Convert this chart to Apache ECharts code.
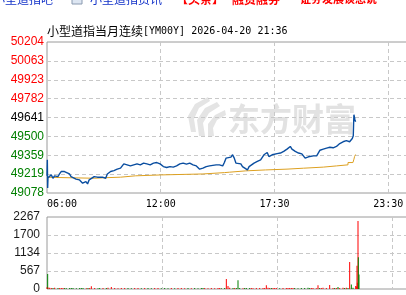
<!DOCTYPE html>
<html><head><meta charset="utf-8">
<script src="https://cdn.jsdelivr.net/npm/echarts@6/dist/echarts.min.js"></script>
<style>html,body{margin:0;padding:0;overflow:hidden;background:#fff;width:406px;height:295px}#c{width:520px;height:295px}</style>
</head><body><div id="c"></div>
<script>
// x axis: minutes since 06:00 (session 06:00 -> 05:00 next day, 1380 min)
const timeLabels = ['06:00','12:00','17:30','23:30','05:00'];
const priceTicks = ['49078','49219','49359','49500','49641','49782','49923','50063','50204'];
const volTicks = ['0','567','1134','1700','2267'];
const preClose = 49641;

const priceMinutes = [
 0,1,2,3,8,13,18,23,33,38,
 43,48,53,58,68,73,78,88,98,103,
 108,118,123,128,133,143,153,158,168,178,
 183,193,203,213,223,233,243,253,263,273,
 283,293,303,313,323,333,343,353,363,373,
 383,393,403,413,423,433,443,453,463,468,
 473,483,493,503,513,518,523,533,538,543,
 548,558,563,568,573,578,588,593,598,608,
 613,618,628,638,648,653,658,663,668,673,
 678,683,688,698,708,718,723,728,733,738,
 743,753,763,773,783,788,793,798,808,813,
 818,823,828,838,848,858,863,868,873,878,
 888,893,898,903,908,913,918,926,929,930,
 931,933,934,936];
const priceValues = [
 49206,49325,49116,49191,49200,49213,49188,49206,49200,49220,
 49238,49250,49238,49230,49220,49200,49188,49181,49176,49163,
 49151,49163,49146,49176,49188,49200,49196,49188,49196,49188,
 49220,49238,49245,49256,49263,49295,49288,49280,49288,49295,
 49288,49301,49295,49288,49301,49305,49295,49275,49268,49275,
 49271,49280,49295,49301,49293,49301,49288,49280,49256,49245,
 49263,49275,49280,49284,49288,49301,49288,49280,49305,49338,
 49350,49346,49363,49338,49301,49288,49295,49275,49263,49250,
 49275,49288,49301,49313,49325,49338,49363,49376,49380,49350,
 49355,49363,49376,49372,49376,49388,49395,49405,49413,49425,
 49405,49388,49376,49370,49338,49325,49348,49353,49355,49358,
 49355,49363,49397,49405,49413,49419,49413,49415,49410,49425,
 49447,49441,49460,49450,49468,49464,49460,49484,49505,49595,
 49662,49674,49625,49610];
const volValues = [
 60,40,470,50,40,35,30,40,30,35,
 30,35,30,25,30,35,30,25,30,35,
 30,25,30,35,90,30,25,30,35,30,
 40,60,30,25,30,35,30,25,30,30,
 25,30,30,25,30,30,25,30,25,30,
 25,30,30,25,30,25,30,25,35,30,
 30,25,30,25,30,30,25,30,315,95,
 40,30,35,30,275,30,25,30,35,30,
 30,25,30,30,35,30,115,40,30,35,
 30,30,35,25,30,30,35,30,30,35,
 30,25,30,35,40,35,30,30,25,115,
 30,35,40,35,125,30,35,30,60,35,
 40,35,40,35,850,145,40,95,80,730,
 200,2140,1000,460];
const avgMinutes = [0,5,143,178,223,268,348,473,538,553,603,663,728,778,838,878,913,928,929,931,933,936];
const avgValues = [49195,49188,49192,49196,49206,49213,49220,49230,49233,49243,49250,49256,49263,49271,49280,49288,49305,49305,49310,49330,49350,49365];

const sessionMin = 1380, xInt = sessionMin / 4;
const pMin = Number(priceTicks[0]), pMax = Number(priceTicks[priceTicks.length-1]);
const pInt = (pMax - pMin) / (priceTicks.length - 1);
const vMax = Number(volTicks[volTicks.length-1]);
const vInt = vMax / (volTicks.length - 1);

const dash = {show:true, showMinLine:false, showMaxLine:false, lineStyle:{color:'#c8c8c8', width:1, type:[4,3]}};
const chart = echarts.init(document.getElementById('c'), null, {renderer:'canvas'});
const volData = priceMinutes.map((m,i)=>{
  const up = i === 0 ? true : priceValues[i] >= priceValues[i-1];
  return {value:[m, volValues[i]], itemStyle:{color: up ? '#ff0000' : '#008000'}};
});
const logoFill = {fill:'#e4e4e4'};
chart.setOption({
  animation:false,
  grid:[
    {left:47, top:42, width:460, height:151, show:true, borderColor:'#9a9a9a', borderWidth:1, backgroundColor:'transparent'},
    {left:47, top:217, width:460, height:73, show:true, borderColor:'#9a9a9a', borderWidth:1, backgroundColor:'transparent'}
  ],
  xAxis:[
    {type:'value', gridIndex:0, min:0, max:sessionMin, interval:xInt,
     axisLine:{show:false}, axisTick:{show:false}, splitLine:dash,
     axisLabel:{formatter:v=>timeLabels[Math.round(v/xInt)], fontFamily:'DejaVu Sans Mono', fontSize:10, color:'#000', margin:6, alignMinLabel:'left', showMinLabel:true}},
    {type:'value', gridIndex:1, min:0, max:sessionMin, interval:xInt,
     axisLine:{show:false}, axisTick:{show:false}, splitLine:dash, axisLabel:{show:false}}
  ],
  yAxis:[
    {type:'value', gridIndex:0, min:pMin, max:pMax, interval:pInt,
     axisLine:{show:false}, axisTick:{show:false}, splitLine:dash,
     axisLabel:{formatter:v=>priceTicks[Math.round((v-pMin)/pInt)], fontFamily:'Liberation Sans', fontSize:12, margin:3,
       color:(v)=>{const n=Math.round((Number(v)-pMin)/pInt); const p=Number(priceTicks[n]); return p>preClose?'#ff0000':(p<preClose?'#008000':'#000000');}}},
    {type:'value', gridIndex:1, min:0, max:vMax, interval:vInt,
     axisLine:{show:false}, axisTick:{show:false}, splitLine:dash,
     axisLabel:{formatter:v=>volTicks[Math.round(v/vInt)], fontFamily:'Liberation Sans', fontSize:12, margin:7, color:'#1a1a1a'}}
  ],
  graphic:[
    {type:'text', x:-7, y:-1, z:10, style:{text:'小型道指吧', fill:'#1030c8', font:'12px "Noto Sans CJK SC"', textVerticalAlign:'middle'}},
    {type:'rect', x:72, y:-5, z:10, shape:{width:10, height:9}, style:{fill:'#dde6f2', stroke:'#8a9ab0', lineWidth:1}},
    {type:'text', x:90, y:-1, z:10, style:{text:'小型道指资讯', fill:'#1030c8', font:'12px "Noto Sans CJK SC"', textVerticalAlign:'middle'}},
    {type:'text', x:176, y:-1, z:10, style:{text:'【头条】', fill:'#ff0000', font:'bold 12px "Noto Sans CJK SC"', textVerticalAlign:'middle'}},
    {type:'text', x:232, y:-1, z:10, style:{text:'融资融券', fill:'#ff0000', font:'bold 12px "Noto Sans CJK SC"', textVerticalAlign:'middle'}},
    {type:'text', x:300, y:-1, z:10, style:{text:'证券发展谈想说', fill:'#ff0000', font:'bold 11px "Noto Sans CJK SC"', textVerticalAlign:'middle'}},
    {type:'text', x:47, y:31, z:10, style:{rich:{a:{fontFamily:'Noto Sans CJK SC', fontSize:12, fill:'#000'}, b:{fontFamily:'DejaVu Sans Mono', fontSize:10, fill:'#000'}}, text:'{a|小型道指当月连续}{b|[YM00Y] 2026-04-20 21:36}', textVerticalAlign:'middle'}},
    {type:'polygon', z:0, shape:{points:[[191,132],[188,116],[195,104],[208,97],[210,101],[199,108],[194,119],[196,132]]}, style:logoFill},
    {type:'polygon', z:0, shape:{points:[[199,136],[197,120],[205,108],[217,102],[220,106],[209,113],[203,123],[205,136]]}, style:logoFill},
    {type:'polygon', z:0, shape:{points:[[208,137],[208,124],[215,115],[225,110],[226,115],[217,120],[213,128],[214,136]]}, style:logoFill},
    {type:'text', x:228, y:119, z:0, style:{text:'东方财富', fill:'#e2e2e2', font:'bold 32px "Noto Sans CJK SC"', textVerticalAlign:'middle'}}
  ],
  series:[
    {type:'line', name:'avg', xAxisIndex:0, yAxisIndex:0, step:'end', showSymbol:false, symbol:'none',
     data:avgMinutes.map((m,i)=>[m, avgValues[i]]), lineStyle:{color:'#dda020', width:1}, z:3},
    {type:'line', name:'price', xAxisIndex:0, yAxisIndex:0, showSymbol:false, symbol:'none',
     data:priceMinutes.map((m,i)=>[m, priceValues[i]]), lineStyle:{color:'#0a4ea0', width:1.4}, z:4},
    {type:'bar', name:'vol', xAxisIndex:1, yAxisIndex:1, barWidth:1, data:volData, z:3}
  ]
});
</script></body></html>
